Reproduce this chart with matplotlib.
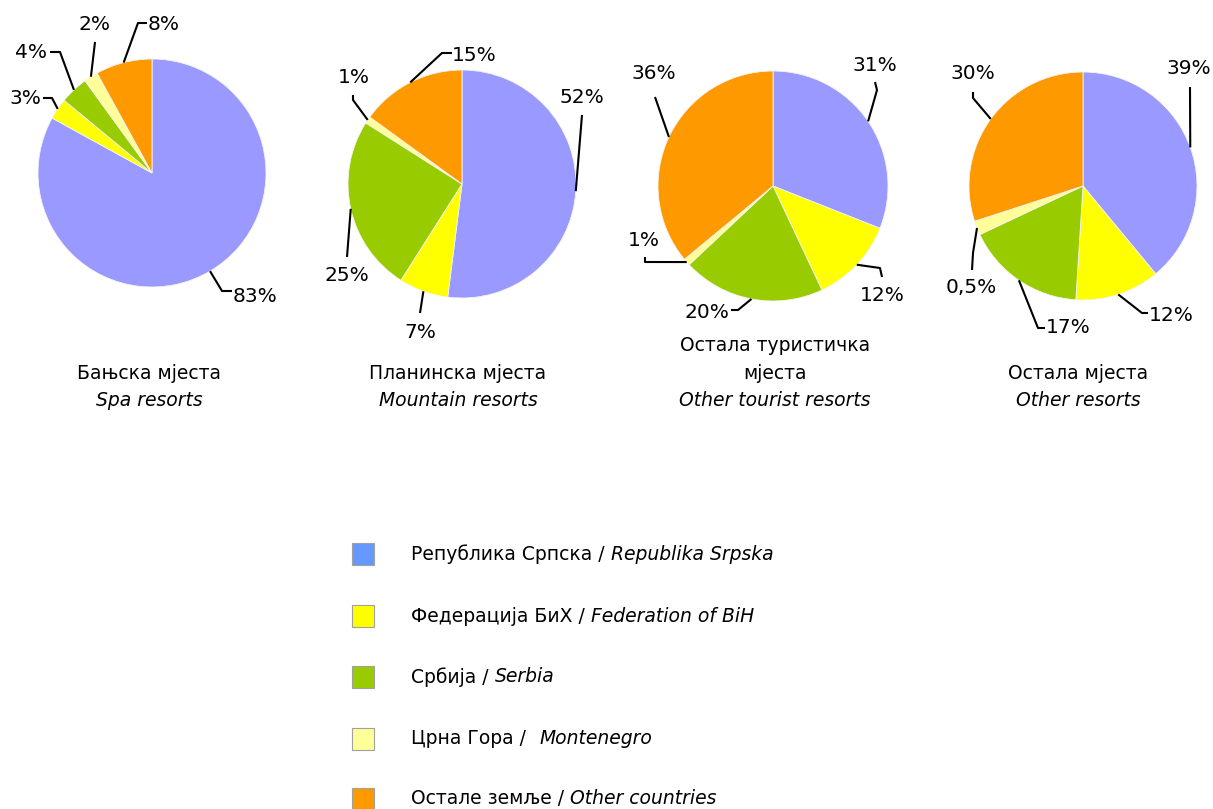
import matplotlib

matplotlib.use("Agg")

import numpy as np
from matplotlib import pyplot as plt
from matplotlib.patches import Rectangle

W, H = 1213, 809

PIE_COLORS = ["#9999FF", "#FFFF00", "#99CC00", "#FFFF99", "#FF9900"]
LEGEND_COLORS = ["#6699FF", "#FFFF00", "#99CC00", "#FFFF99", "#FF9900"]

# shares per resort type: RS, FBiH, Serbia, Montenegro, other countries
SPA = [83, 3, 4, 2, 8]
MOUNTAIN = [52, 7, 25, 1, 15]
TOURIST = [31, 12, 20, 1, 36]
OTHER = [39, 12, 17, 2, 30]

SPA_LABELS = ["83%", "3%", "4%", "2%", "8%"]
MOUNTAIN_LABELS = ["52%", "7%", "25%", "1%", "15%"]
TOURIST_LABELS = ["31%", "12%", "20%", "1%", "36%"]
OTHER_LABELS = ["39%", "12%", "17%", "0,5%", "30%"]

TITLES = [
    (["Бањска мјеста"], "Spa resorts"),
    (["Планинска мјеста"], "Mountain resorts"),
    (["Остала туристичка", "мјеста"], "Other tourist resorts"),
    (["Остала мјеста"], "Other resorts"),
]

LEGEND_NAMES = [
    ("Република Српска /", "Republika Srpska"),
    ("Федерација БиХ /", "Federation of BiH"),
    ("Србија /", "Serbia"),
    ("Црна Гора /", "Montenegro"),
    ("Остале земље /", "Other countries"),
]

# layout in pixel coordinates (y measured from top)
PIES = [
    {
        "values": SPA, "labels": SPA_LABELS, "center": (152, 173), "radius": 114,
        "title_x": 149,
        "text": [(255, 296), (25, 98), (31, 52), (94, 24), (164, 24)],
        "paths": [[(222, 291), (232, 291)], [(52, 98), (43, 98)], [(60, 52), (50, 52)],
                  [(95, 42)], [(138, 23), (147, 23)]],
    },
    {
        "values": MOUNTAIN, "labels": MOUNTAIN_LABELS, "center": (462, 184), "radius": 114,
        "title_x": 458,
        "text": [(582, 97), (420, 332), (347, 275), (354, 77), (474, 55)],
        "paths": [[(582, 115)], [(420, 313)], [(347, 257)],
                  [(353, 100), (353, 95)], [(442, 53), (452, 53)]],
    },
    {
        "values": TOURIST, "labels": TOURIST_LABELS, "center": (773, 186), "radius": 115,
        "title_x": 775,
        "text": [(875, 65), (882, 295), (707, 312), (644, 240), (654, 73)],
        "paths": [[(877, 90), (875, 82)], [(880, 268), (882, 277)], [(738, 310), (731, 310)],
                  [(645, 262), (645, 257)], [(655, 97)]],
    },
    {
        "values": OTHER, "labels": OTHER_LABELS, "center": (1083, 186), "radius": 114,
        "title_x": 1078,
        "text": [(1189, 68), (1171, 315), (1068, 327), (971, 287), (973, 73)],
        "paths": [[(1190, 87)], [(1142, 313), (1148, 313)], [(1038, 328), (1045, 328)],
                  [(973, 253), (972, 270)], [(973, 98), (973, 92)]],
    },
]

FONT = 13.5
PCT_FONT = 14.5


def fy(y):
    return H - y


fig = plt.figure(figsize=(W / 100, H / 100), dpi=100)
ax = fig.add_axes([0, 0, 1, 1])

for pie in PIES:
    cx, cy = pie["center"]
    r = pie["radius"]
    wedges, _ = ax.pie(
        pie["values"], colors=PIE_COLORS, startangle=90, counterclock=False,
        center=(cx, fy(cy)), radius=r,
        wedgeprops={"edgecolor": "#f4f4f4", "linewidth": 0.6},
    )
    for wedge, label, (tx, ty), path in zip(wedges, pie["labels"], pie["text"], pie["paths"]):
        mid = np.deg2rad((wedge.theta1 + wedge.theta2) / 2)
        ex, ey = cx + r * np.cos(mid), fy(cy) + r * np.sin(mid)
        xs = [ex] + [p[0] for p in path]
        ys = [ey] + [fy(p[1]) for p in path]
        ax.plot(xs, ys, color="black", linewidth=1.5, solid_capstyle="butt")
        ax.text(tx, fy(ty), label, ha="center", va="center", fontsize=PCT_FONT)

for pie, (lines, name_en) in zip(PIES, TITLES):
    for i, line in enumerate(reversed(lines)):
        ax.text(pie["title_x"], fy(373 - 28 * i), line, ha="center", va="center",
                fontsize=FONT)
    ax.text(pie["title_x"], fy(400), name_en, ha="center", va="center",
            fontsize=FONT, style="italic")

ax.set_xlim(0, W)
ax.set_ylim(0, H)
ax.set_aspect("equal")
ax.axis("off")

# legend
renderer = fig.canvas.get_renderer()
legend_y = [554, 616, 677, 739, 799]
for color, (name, name_en), ly in zip(LEGEND_COLORS, LEGEND_NAMES, legend_y):
    ax.add_patch(Rectangle((352, fy(ly) - 11), 22, 22, facecolor=color,
                           edgecolor="#a0a0a0", linewidth=0.8))
    t = ax.text(411, fy(ly), name, ha="left", va="center", fontsize=FONT)
    bb = t.get_window_extent(renderer)
    gap = 13 if name_en == "Montenegro" else 6
    ax.text(bb.x1 + gap, fy(ly), name_en, ha="left", va="center",
            fontsize=FONT, style="italic")

fig.savefig("out.png", dpi=100)
